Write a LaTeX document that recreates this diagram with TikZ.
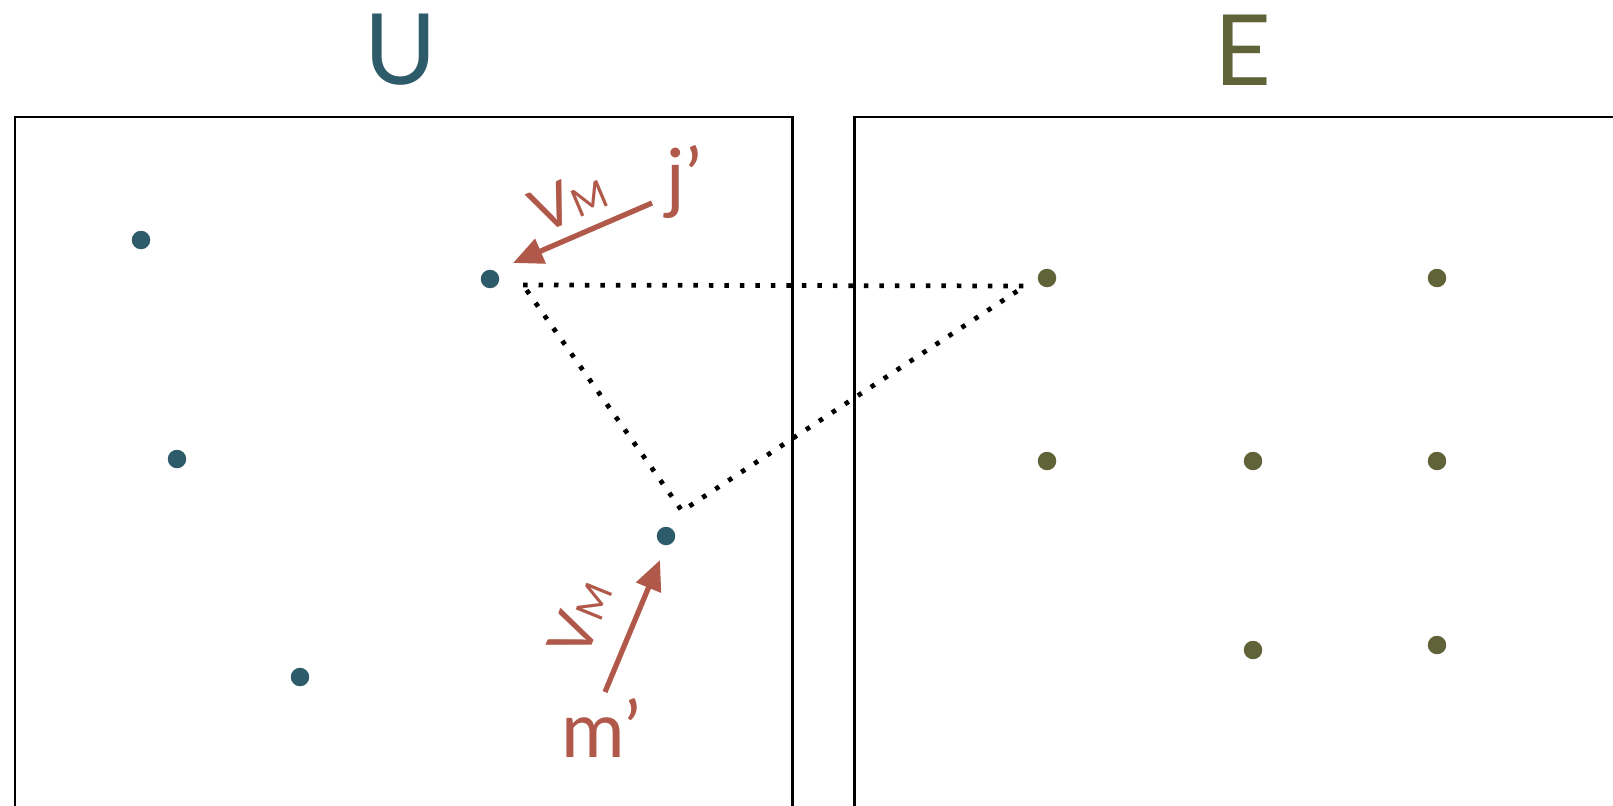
\documentclass[tikz,border=0pt]{standalone}
\usepackage{fontspec}
\setmainfont{Lato}
\usepackage{tikz}
\usetikzlibrary{positioning,arrows.meta,calc}
\definecolor{ucol}{RGB}{46,91,105}
\definecolor{ecol}{RGB}{96,99,56}
\definecolor{vcol}{RGB}{176,89,74}
\tikzset{
  frame/.style={draw=black,line width=1.7pt},
  udot/.style={circle,fill=ucol,inner sep=0pt,minimum size=0.37cm},
  edot/.style={circle,fill=ecol,inner sep=0pt,minimum size=0.37cm},
  setlabel/.style={font=\fontsize{56}{56}\selectfont,inner sep=0pt},
  ptlabel/.style={text=vcol,font=\fontsize{44}{44}\selectfont,inner sep=0pt},
  vlabel/.style={text=vcol,font=\fontsize{34}{34}\selectfont,inner sep=0pt},
  vel/.style={-{Triangle[length=0.6cm,width=0.52cm]},draw=vcol,line width=3pt},
  link/.style={draw=black,line width=2.7pt,dash pattern=on 0.09cm off 0.22cm}
}
\newcommand{\velname}{V{\fontsize{22}{22}\selectfont M}}

\begin{document}
\begin{tikzpicture}[x=0.02cm,y=-0.02cm]
  \useasboundingbox (0,0) rectangle (1613,805);
  % the two sets
  \node[setlabel,text=ucol] (ulab) at (401,50) {U};
  \node[setlabel,text=ecol] (elab) at (1243,50) {E};
  \draw[frame] (15,815) -- (15,117) -- (792,117) -- (792,815);
  \draw[frame] (854,815) -- (854,117) -- (1625,117);
  % points of U
  \node[udot] (u1) at (141,240) {};
  \node[udot] (uj) at (490,279) {};
  \node[udot] (u2) at (177,459) {};
  \node[udot] (um) at (666,536) {};
  \node[udot] (u3) at (300,677) {};
  % points of E
  \node[edot] (e1) at (1047,278) {};
  \node[edot] (e2) at (1437,278) {};
  \node[edot] (e3) at (1047,461) {};
  \node[edot] (e4) at (1253,461) {};
  \node[edot] (e5) at (1437,461) {};
  \node[edot] (e6) at (1253,650) {};
  \node[edot] (e7) at (1437,645) {};
  % dotted triangle
  \coordinate (tj) at (523,285);
  \coordinate (tm) at (682,511);
  \coordinate (te) at (1025,286);
  \draw[link] (tj) -- (te) -- (tm) -- cycle;
  % velocities
  \node[ptlabel] (jp) at (684,182) {j’};
  \node[ptlabel] (mp) at (601,728) {m’};
  \coordinate (jtail) at (652,203);
  \coordinate (jtip) at (513,263);
  \coordinate (mtail) at (605,692);
  \coordinate (mtip) at (660,560);
  \draw[vel] (jtail) -- (jtip);
  \draw[vel] (mtail) -- (mtip);
  \node[vlabel,rotate=23] (vj) at (568,200) {\velname};
  \node[vlabel,rotate=68] (vm) at (580,618) {\velname};
\end{tikzpicture}
\end{document}
